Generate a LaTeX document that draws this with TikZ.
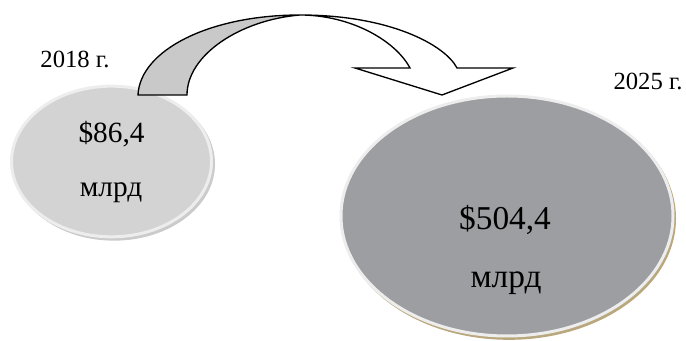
\documentclass[tikz,border=0pt]{standalone}
\usepackage{fontspec}
\setmainfont{Liberation Serif}
\usetikzlibrary{shapes.geometric}
\definecolor{rimcol}{HTML}{EDEDED}
\definecolor{smallfill}{HTML}{D3D3D3}
\definecolor{bigfill}{HTML}{9D9EA1}
\definecolor{smallshade}{HTML}{A8A8A8}
\definecolor{bigshade}{HTML}{B9A77D}
\definecolor{ribbon}{HTML}{C9C9C9}
\begin{document}
\begin{tikzpicture}[x=0.75pt,y=-0.75pt,
  bubble/.style={ellipse,inner sep=0pt,line width=2.25pt,draw=rimcol},
  yearlbl/.style={anchor=base,font=\fontsize{18.5}{22}\selectfont},
  sumsmall/.style={anchor=base,font=\fontsize{22}{26}\selectfont},
  sumbig/.style={anchor=base,font=\fontsize{25}{30}\selectfont}]
\useasboundingbox (0,0) rectangle (686,341);

% shadows
\node[ellipse,fill=smallshade,opacity=0.6,minimum width=151.5pt,minimum height=115pt] at (114,164) {};
\node[ellipse,fill=bigshade,minimum width=250.5pt,minimum height=182pt] at (509,218.5) {};

% the two sums
\node[bubble,fill=smallfill,minimum width=150pt,minimum height=113pt] (small) at (111.5,161.5) {};
\node[bubble,fill=bigfill,minimum width=249pt,minimum height=180pt] (big) at (507,216) {};

\node[sumsmall] (v1) at (111.5,143) {\$86,4};
\node[sumsmall] (u1) at (111,197) {млрд};
\node[sumbig] (v2) at (505,230) {\$504,4};
\node[sumbig] (u2) at (506,288) {млрд};

\node[yearlbl] (y1) at (75,68) {2018 г.};
\node[yearlbl] (y2) at (648,90) {2025 г.};

% curved arrow
\coordinate (A) at (138,95);
\coordinate (B) at (187,95);
\coordinate (T) at (300,15);
\coordinate (C) at (457,68);
\coordinate (D) at (513,68);
\coordinate (E) at (442,95);
\coordinate (F) at (355,68);
\coordinate (G) at (410,68);

\filldraw[fill=ribbon,line width=1pt] (A) .. controls (140,50) and (210,15) .. (T)
  .. controls (240,20) and (187,55) .. (B) -- cycle;
\filldraw[fill=white,line width=1pt,line join=miter] (T) .. controls (390,15) and (445,45) .. (C)
  -- (D) -- (E) -- (F) -- (G) .. controls (395,40) and (350,15) .. (T) -- cycle;
\end{tikzpicture}
\end{document}
